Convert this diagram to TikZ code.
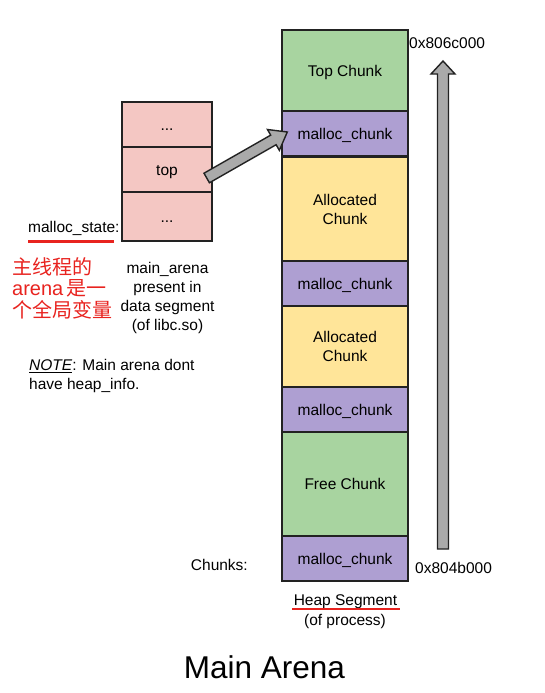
\documentclass[tikz,border=0pt]{standalone}
\usepackage{fontspec}
\setmainfont{Liberation Sans}
\newfontfamily\cjk{Noto Sans CJK SC}
\usetikzlibrary{calc}
\definecolor{pinkc}{HTML}{F4C7C3}
\definecolor{greenc}{HTML}{A8D4A0}
\definecolor{purplec}{HTML}{AE9FD2}
\definecolor{yellowc}{HTML}{FFE599}
\definecolor{arrgray}{HTML}{AAAAAA}
\definecolor{edgec}{HTML}{222222}
\definecolor{redc}{HTML}{E8231F}
\tikzset{
  txt/.style={font=\fontsize{15.5}{19}\selectfont, inner sep=0pt, align=center},
  box/.style={draw=edgec, line width=1.4pt, inner sep=0pt, txt},
  one/.style={text height=11pt, text depth=0pt},
  heap/.style={box, minimum width=126pt},
  stk/.style={box, one, fill=pinkc, minimum width=90pt},
  fatarr/.style={draw=edgec, fill=arrgray, line width=1.4pt, line join=miter},
  redline/.style={draw=redc, line width=2.6pt}
}
% #1 head length, #2 tail, #3 tip
\newcommand\fatarrow[3]{%
  \coordinate (fa-h) at ($(#3)!#1!(#2)$);
  \draw[fatarr] ($(#2)!5.5pt!90:(#3)$) -- ($(fa-h)!5.5pt!-90:(#2)$) -- ($(fa-h)!12pt!-90:(#2)$) -- (#3) -- ($(fa-h)!12pt!90:(#2)$) -- ($(fa-h)!5.5pt!90:(#2)$) -- ($(#2)!5.5pt!-90:(#3)$) -- cycle;
}
\begin{document}
\begin{tikzpicture}[x=1pt, y=-1pt]
\useasboundingbox (0,0) rectangle (544,693);
% heap column
\node[heap, one, fill=greenc,  minimum height=81pt]  (tc)  at (345,70.5)  {Top Chunk};
\node[heap, one, fill=purplec, minimum height=45pt]  (mc1) at (345,133.5) {malloc\_chunk};
\node[heap, fill=yellowc, minimum height=105pt] (ac1) at (345,209.5) {Allocated\\Chunk};
\node[heap, one, fill=purplec, minimum height=45pt]  (mc2) at (345,283.5) {malloc\_chunk};
\node[heap, fill=yellowc, minimum height=81pt]  (ac2) at (345,346.5) {Allocated\\Chunk};
\node[heap, one, fill=purplec, minimum height=45pt]  (mc3) at (345,409.5) {malloc\_chunk};
\node[heap, one, fill=greenc,  minimum height=104pt] (fc)  at (345,484)   {Free Chunk};
\node[heap, one, fill=purplec, minimum height=45pt]  (mc4) at (345,558.5) {malloc\_chunk};
% left stack
\node[stk, minimum height=45pt] (s1)  at (167,124.5) {...};
\node[stk, minimum height=45pt] (top) at (167,169.5) {top};
\node[stk, minimum height=49pt] (s3)  at (167,216.5) {...};
% arrows
\coordinate (arrS) at ($(top.east)+(-6,8.5)$);
\coordinate (arrT) at ($(mc1.west)+(6,-1.5)$);
\fatarrow{16pt}{arrS}{arrT}
\coordinate (vb) at (443,549);
\coordinate (vt) at (443,61);
\fatarrow{13pt}{vb}{vt}
% labels
\node[txt, anchor=west] (hi) at (409,43) {0x806c000};
\node[txt, anchor=west] (lo) at (415,568) {0x804b000};
\node[txt, anchor=east] (chk) at (248,565) {Chunks:};
\node[txt] (hs) at (345.5,602) {Heap Segment};
\draw[redline] (292,609) -- (400,609);
\node[txt] (proc) at (345,621) {(of process)};
\node[txt, font=\fontsize{31.5}{36}\selectfont] (title) at (264.5,667) {Main Arena};
\node[txt, anchor=west] (ms) at (28,228) {malloc\_state:};
\draw[redline] (28,241.5) -- (114,241.5);
\node[txt, anchor=north west, align=left, text=redc, font=\fontsize{20}{21.5}\selectfont] (cn) at (12,257) {{\cjk 主线程的}\\arena\,{\cjk 是一}\\{\cjk 个全局变量}};
\node[txt, anchor=north, font=\fontsize{15.5}{19}\selectfont] (ma) at (167.5,262) {main\_arena\\present in\\data segment\\(of libc.so)};
\node[txt, anchor=north west, align=left] (note) at (29,359) {\underline{\textit{NOTE}}: Main arena dont\\have heap\_info.};
\end{tikzpicture}
\end{document}
